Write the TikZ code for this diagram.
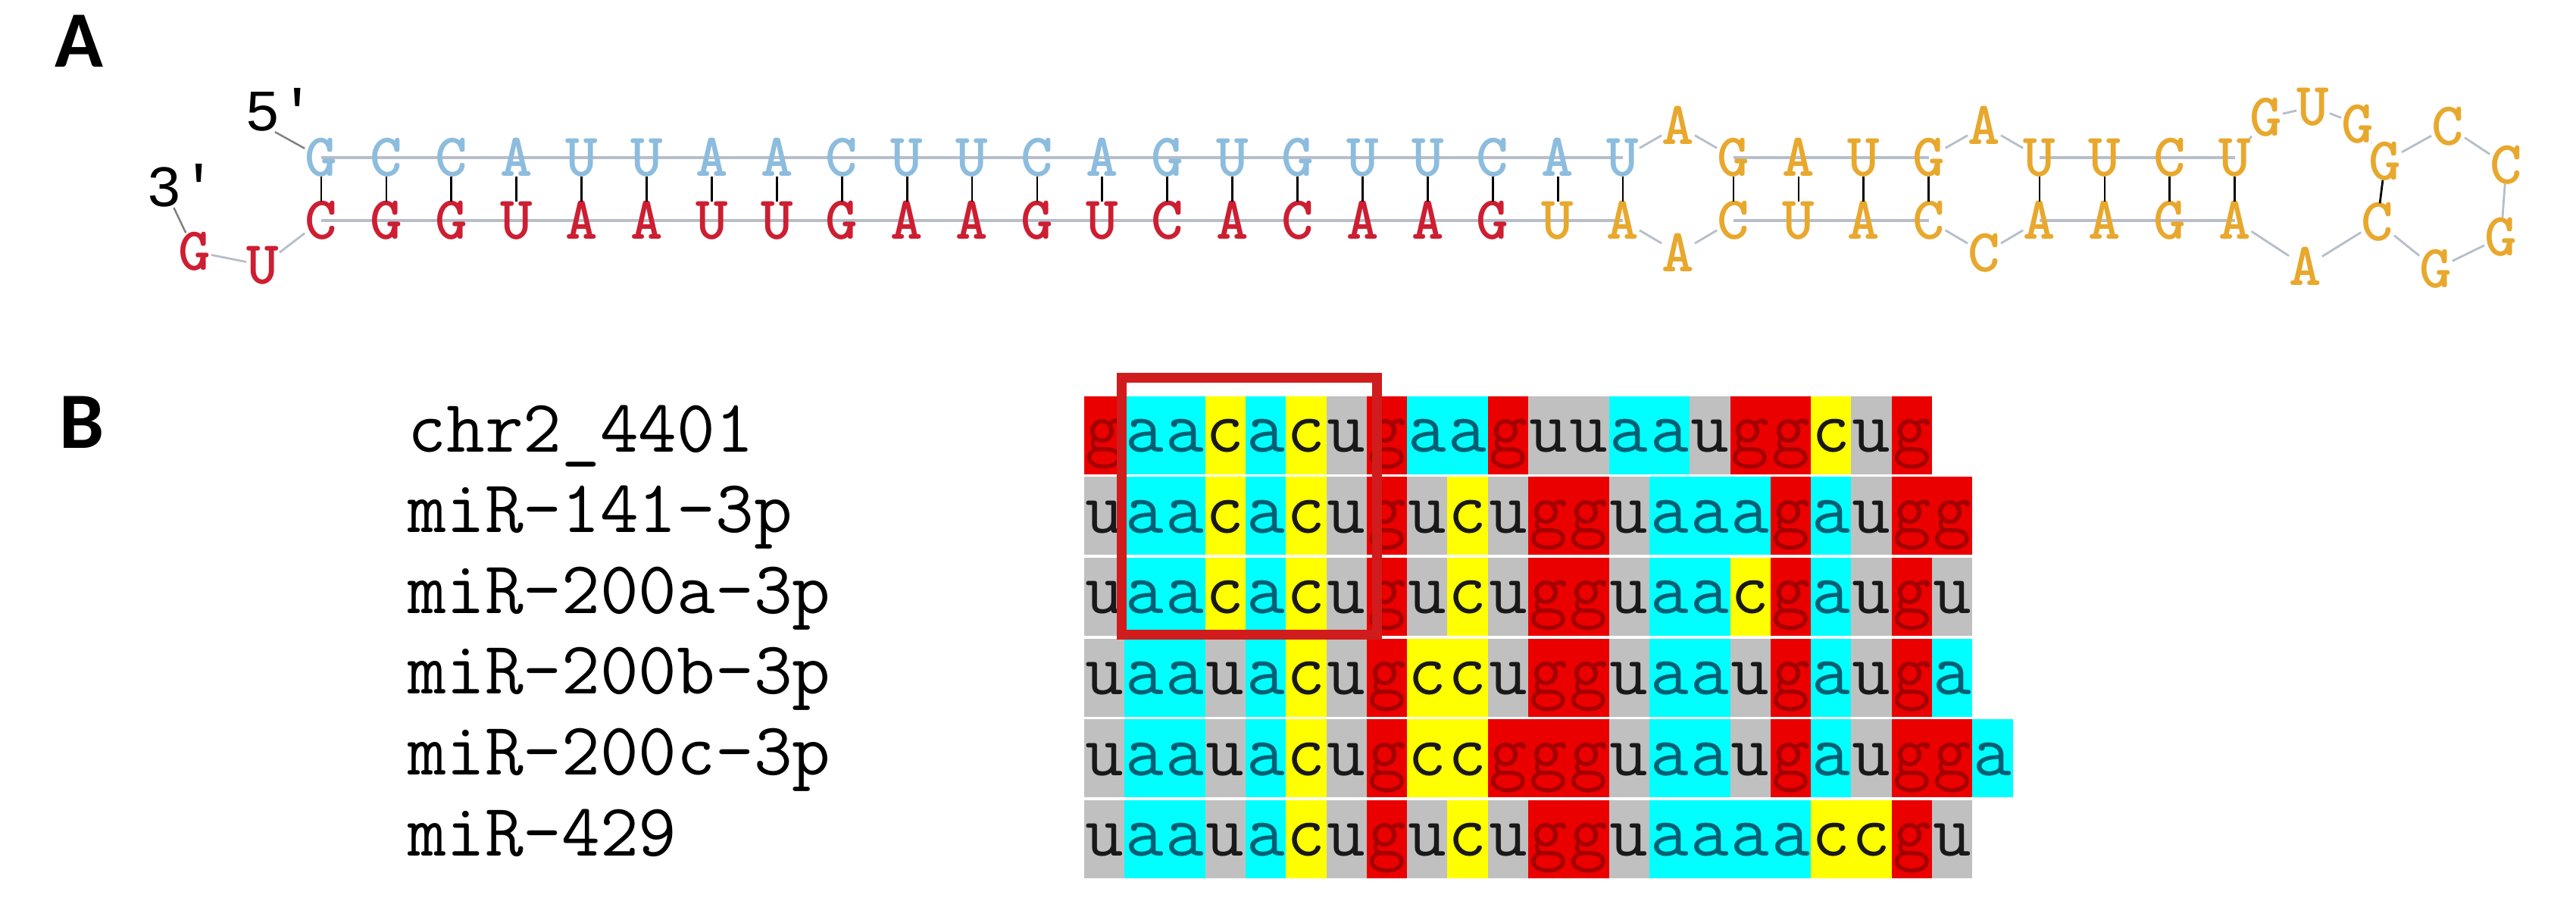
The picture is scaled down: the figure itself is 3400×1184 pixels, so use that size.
\documentclass[tikz,border=0pt]{standalone}
\usepackage{fontspec}
\newfontfamily\panelfont{Carlito}
\newfontfamily\endsfont{Liberation Mono}
\usepackage{xcolor}
\usepackage{tikz}
\usetikzlibrary{positioning, backgrounds, calc}
\definecolor{stemblue}{RGB}{140,188,222}
\definecolor{stemred}{RGB}{205,30,50}
\definecolor{looporange}{RGB}{232,168,45}
\definecolor{bbgray}{RGB}{182,190,202}
\definecolor{bga}{RGB}{0,255,255}
\definecolor{bgc}{RGB}{255,255,0}
\definecolor{bgg}{RGB}{235,0,0}
\definecolor{bgu}{RGB}{192,192,192}
\definecolor{txa}{RGB}{0,95,115}
\definecolor{txc}{RGB}{25,25,25}
\definecolor{txg}{RGB}{165,0,0}
\definecolor{txu}{RGB}{25,25,25}
\definecolor{seedred}{RGB}{208,28,28}
\tikzset{
    base/.style={rectangle, inner sep=0pt, font=\ttfamily\bfseries\fontsize{23}{23}\selectfont, text height=0.48cm, text depth=0pt},
    tbase/.style={base, text=stemblue},
    bbase/.style={base, text=stemred},
    lbase/.style={base, text=looporange},
    endlab/.style={inner sep=0pt, font=\endsfont\fontsize{22}{22}\selectfont},
    panel/.style={inner sep=0pt, font=\panelfont\bfseries\fontsize{30}{30}\selectfont},
    bbstem/.style={draw=bbgray, line width=1.1pt},
    bbloop/.style={draw=bbgray, line width=0.8pt},
    endline/.style={draw=gray, line width=0.7pt},
    pairline/.style={draw=black, line width=0.8pt},
    seqname/.style={anchor=base west, inner sep=0pt, font=\ttfamily\fontsize{28}{28}\selectfont},
    cell/.style={anchor=north west, inner sep=0pt, minimum width=0.533cm, text height=0.74cm, text depth=0.29cm, font=\ttfamily\fontsize{28}{28}\selectfont},
    seedbox/.style={draw=seedred, line width=0.13cm},
}
\begin{document}
\begin{tikzpicture}[x=0.01cm, y=-0.01cm]

    \useasboundingbox (0,0) rectangle (3400,1184);

    % === PANEL A: HAIRPIN ===
    \node[panel] (labA) at (104,54) {A};
    \node[endlab] (five) at (370,145) {5\textquotesingle};
    \node[endlab] (three) at (240,245) {3\textquotesingle};

    % long stem
    \foreach \nt [count=\i] in {G,C,C,A,U,U,A,A,C,U,U,C,A,G,U,G,U,U,C,A,U}
        \node[tbase] (t\i) at ({424+85.9*(\i-1)},208) {\nt};
    \foreach \nt [count=\i] in {C,G,G,U,A,A,U,U,G,A,A,G,U,C,A,C,A,A,G}
        \node[bbase] (b\i) at ({424+85.9*(\i-1)},291) {\nt};
    \node[lbase] (b20) at ({424+85.9*19},291) {U};
    \node[lbase] (b21) at ({424+85.9*20},291) {A};

    % 3' tail
    \node[bbase] (e1) at (347,350) {U};
    \node[bbase] (e2) at (257,332) {G};

    % internal loops and short stems
    \node[lbase] (l1t) at (2215,166) {A};
    \node[lbase] (l1b) at (2215,334) {A};
    \foreach \nt/\mt [count=\i] in {G/C,A/U,U/A,G/C} {
        \node[lbase] (rt\i) at ({2288+85.9*(\i-1)},208) {\nt};
        \node[lbase] (rb\i) at ({2288+85.9*(\i-1)},291) {\mt};
    }
    \node[lbase] (l2t) at (2619,166) {A};
    \node[lbase] (l2b) at (2619,334) {C};
    \foreach \nt/\mt [count=\i from 5] in {U/A,U/A,C/G,U/A} {
        \node[lbase] (rt\i) at ({2692+85.9*(\i-5)},208) {\nt};
        \node[lbase] (rb\i) at ({2692+85.9*(\i-5)},291) {\mt};
    }

    % terminal loops
    \node[lbase] (o1) at (2991,155) {G};
    \node[lbase] (o2) at (3053,141) {U};
    \node[lbase] (o3) at (3112,164) {G};
    \node[lbase] (h1) at (3148,213) {G};
    \node[lbase] (h2) at (3231,167) {C};
    \node[lbase] (h3) at (3308,218) {C};
    \node[lbase] (h4) at (3301,313) {G};
    \node[lbase] (h5) at (3215,355) {G};
    \node[lbase] (h6) at (3138,293) {C};
    \node[lbase] (o4) at (3043,352) {A};

    % base pairs
    \foreach \i in {1,...,21}
        \draw[pairline] (t\i) -- (b\i);
    \foreach \i in {1,...,8}
        \draw[pairline] (rt\i) -- (rb\i);
    \draw[pairline] (h1) -- (h6);

    % backbone
    \begin{scope}[on background layer]
        \draw[bbstem] (t1.center) -- (t21.center);
        \draw[bbstem] (b1.center) -- (b21.center);
        \draw[bbstem] (rt1.center) -- (rt4.center);
        \draw[bbstem] (rb1.center) -- (rb4.center);
        \draw[bbstem] (rt5.center) -- (rt8.center);
        \draw[bbstem] (rb5.center) -- (rb8.center);
        \draw[bbloop] (t21) -- (l1t) -- (rt1);
        \draw[bbloop] (rt4) -- (l2t) -- (rt5);
        \draw[bbloop] (rt8) -- (o1) -- (o2) -- (o3) -- (h1) -- (h2) -- (h3) -- (h4) -- (h5) -- (h6) -- (o4) -- (rb8);
        \draw[bbloop] (rb5) -- (l2b) -- (rb4);
        \draw[bbloop] (rb1) -- (l1b) -- (b21);
        \draw[bbloop] (b1) -- (e1) -- (e2);
        \draw[endline] ([xshift=-2pt]five.south) -- (t1);
        \draw[endline] ([xshift=-3pt]three.south) -- (e2);
    \end{scope}

    % === PANEL B: ALIGNMENT ===
    \node[panel] (labB) at (108,557) {B};

    \foreach \nm [count=\r] in {chr2\_4401,miR-141-3p,miR-200a-3p,miR-200b-3p,miR-200c-3p,miR-429}
        \node[seqname] (n\r) at (538,{596+106.6*(\r-1)}) {\nm};

    \foreach \r/\seq in {
        1/{g,a,a,c,a,c,u,g,a,a,g,u,u,a,a,u,g,g,c,u,g},
        2/{u,a,a,c,a,c,u,g,u,c,u,g,g,u,a,a,a,g,a,u,g,g},
        3/{u,a,a,c,a,c,u,g,u,c,u,g,g,u,a,a,c,g,a,u,g,u},
        4/{u,a,a,u,a,c,u,g,c,c,u,g,g,u,a,a,u,g,a,u,g,a},
        5/{u,a,a,u,a,c,u,g,c,c,g,g,g,u,a,a,u,g,a,u,g,g,a},
        6/{u,a,a,u,a,c,u,g,u,c,u,g,g,u,a,a,a,a,c,c,g,u}}
        \foreach \nt [count=\c from 0] in \seq
            \node[cell, fill=bg\nt, text=tx\nt] (r\r-\c) at ({1430+53.3*\c},{522+106.6*(\r-1)}) {\nt};

    % seed region
    \draw[seedbox] ($(r1-1.north west)+(-3,-24)$) rectangle ($(r3-6.south east)+(13,-2)$);

\end{tikzpicture}
\end{document}
